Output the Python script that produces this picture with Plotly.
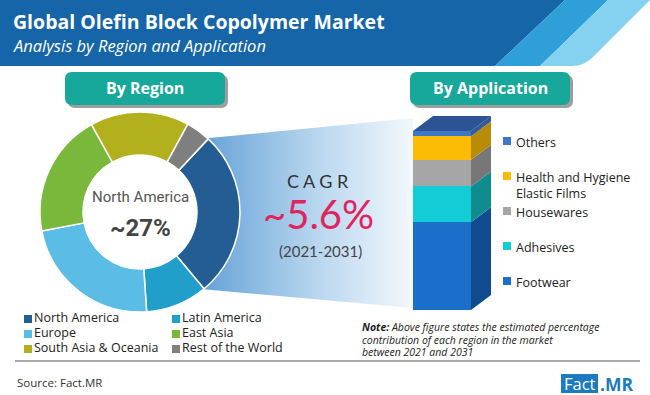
import math
import plotly.graph_objects as go

# ---------------- data ----------------
regions = ["North America", "Latin America", "Europe", "East Asia",
           "South Asia & Oceania", "Rest of the World"]
region_share = [27, 10, 23, 20, 16, 4]
region_colors = ["#245c94", "#1f9fc9", "#5bbde6", "#7ab83c", "#b2b01c", "#7f7f7f"]

applications = ["Footwear", "Adhesives", "Housewares",
                "Health and Hygiene Elastic Films", "Others"]
app_labels = ["Footwear", "Adhesives", "Housewares",
              "Health and Hygiene<br>Elastic Films", "Others"]
app_share = [49, 20, 15, 13, 3]
app_front = ["#1b6fcb", "#12cdd6", "#a6a6a6", "#fcbc05", "#3b78c9"]
app_side = ["#0f4b8e", "#0f8c90", "#777777", "#b98c07", "#2f5a9e"]
top_color = "#2e5395"

cagr = "~5.6%"
period = "(2021-2031)"
note_lines = ["<b><i>Note:</i></b><i> Above figure states the estimated percentage</i>",
              "<i>contribution of each region in the market</i>",
              "<i>between 2021 and 2031</i>"]

W, H = 650, 395
def px(x): return x / W
def py(y): return 1 - y / H

FONT = "Open Sans"
fig = go.Figure()

# ---------------- donut geometry ----------------
CX, CY, R = 140, 212, 100
ROT = 43
hole = 0.57

a0 = math.radians(ROT)
a1 = math.radians(ROT + region_share[0] / sum(region_share) * 360)
p0 = (CX + R * math.sin(a0), CY - R * math.cos(a0))
p1 = (CX + R * math.sin(a1), CY - R * math.cos(a1))

BAR_L, BAR_R, BAR_B, BAR_T = 413, 471, 310, 131
UNIT_X = BAR_R - BAR_L
UNIT_Y = (BAR_B - BAR_T) / 100.0
X2_DOM = (380, 540)
Y2_DOM = (100, 330)
BAR_CX = (BAR_L + BAR_R) / 2
DEPTH_PX, RISE_PX = 20, 15

fig.add_trace(go.Scatter(
    x=[p0[0] - 6, BAR_L, BAR_L, p1[0] - 6],
    y=[p0[1], BAR_T - 13, BAR_B - 2, p1[1]],
    fill="toself", mode="lines", line=dict(width=0),
    fillgradient=dict(type="horizontal",
                      colorscale=[[0, "#62a0d6"], [0.55, "#b8d6ef"], [1, "#f3f8fd"]]),
    hoverinfo="skip", showlegend=False, xaxis="x", yaxis="y"))

fig.add_trace(go.Pie(
    labels=regions, values=region_share, hole=hole, sort=False,
    direction="clockwise", rotation=ROT,
    marker=dict(colors=region_colors, line=dict(color="white", width=1.5)),
    textinfo="none", hoverinfo="label+percent", showlegend=False,
    domain=dict(x=[px(CX - R), px(CX + R)], y=[py(CY + R), py(CY - R)])))

# ---------------- 3D stacked bar ----------------
d = DEPTH_PX / UNIT_X
h = RISE_PX / UNIT_Y
cum = 0
for name, v, cf, cs in zip(applications, app_share, app_front, app_side):
    fig.add_trace(go.Bar(x=[0], y=[v], width=1, marker=dict(color=cf, line=dict(width=0)),
                         xaxis="x2", yaxis="y2", showlegend=False, name=name,
                         hoverinfo="name+y"))
    lo, hi = cum, cum + v
    fig.add_trace(go.Scatter(
        x=[0.5, 0.5 + d, 0.5 + d, 0.5], y=[lo, lo + h, hi + h, hi],
        fill="toself", mode="lines", line=dict(width=0), fillcolor=cs,
        xaxis="x2", yaxis="y2", hoverinfo="skip", showlegend=False))
    cum = hi
fig.add_trace(go.Scatter(
    x=[-0.5, 0.5, 0.5 + d, -0.5 + d], y=[cum, cum, cum + h, cum + h],
    fill="toself", mode="lines", line=dict(width=0), fillcolor=top_color,
    xaxis="x2", yaxis="y2", hoverinfo="skip", showlegend=False))

# ---------------- legends (manual) ----------------
LEG_X = [28, 176]
LEG_Y0, LEG_DY = 319, 15
lx = [LEG_X[i % 2] for i in range(len(regions))]
ly = [LEG_Y0 + (i // 2) * LEG_DY for i in range(len(regions))]
fig.add_trace(go.Scatter(x=lx, y=ly, mode="markers",
                         marker=dict(symbol="square", size=8, color=region_colors),
                         hoverinfo="skip", showlegend=False))
fig.add_trace(go.Scatter(x=[v + 6 for v in lx], y=ly, mode="text", text=regions,
                         textposition="middle right",
                         textfont=dict(family=FONT, size=12.5, color="#222"),
                         hoverinfo="skip", showlegend=False))

annotations = []
AX, AY0, ADY = 507, 141, 35
ax_, ay_ = [], []
for k, i in enumerate(reversed(range(len(applications)))):
    y = AY0 + k * ADY
    ax_.append(AX); ay_.append(y)
    annotations.append(dict(x=AX + 7, y=y - 9, text=app_labels[i], xanchor="left",
                            yanchor="top", align="left", showarrow=False,
                            font=dict(family=FONT, size=12.5, color="#222")))
fig.add_trace(go.Scatter(x=ax_, y=ay_, mode="markers",
                         marker=dict(symbol="square", size=8,
                                     color=list(reversed(app_front))),
                         hoverinfo="skip", showlegend=False))

fig.add_trace(go.Scatter(x=[362] * 3, y=[328, 341, 353], mode="text", text=note_lines,
                         textposition="middle right",
                         textfont=dict(family=FONT, size=10.5, color="#222"),
                         hoverinfo="skip", showlegend=False))

# ---------------- shapes ----------------
def rrect(x0, y0, x1, y1, r):
    return (f"M{x0+r},{y0} L{x1-r},{y0} Q{x1},{y0} {x1},{y0+r} L{x1},{y1-r} "
            f"Q{x1},{y1} {x1-r},{y1} L{x0+r},{y1} Q{x0},{y1} {x0},{y1-r} "
            f"L{x0},{y0+r} Q{x0},{y0} {x0+r},{y0} Z")

shapes = [
    dict(type="path", path="M0,0 L565,0 L495,66 L0,66 Z", fillcolor="#1565a8",
         line=dict(width=0), xref="x", yref="y", layer="below"),
    dict(type="path", path="M565,0 L608,0 L540,66 L495,66 Z", fillcolor="#2e9fd8",
         line=dict(width=0), xref="x", yref="y", layer="below"),
    dict(type="path", path="M608,0 L650,0 L593,57 Q584,66 572,66 L540,66 Z",
         fillcolor="#84d2f0", line=dict(width=0), xref="x", yref="y", layer="below"),
]
for (x0, x1) in [(65, 225), (410, 570)]:
    shapes.append(dict(type="path", path=rrect(x0 + 3, 75, x1 + 3, 108, 7),
                       fillcolor="rgba(40,40,40,0.45)", line=dict(width=0),
                       xref="x", yref="y", layer="below"))
    shapes.append(dict(type="path", path=rrect(x0, 72, x1, 105, 7),
                       fillcolor="#16a89b", line=dict(width=0),
                       xref="x", yref="y", layer="below"))
shapes.append(dict(type="line", x0=15, x1=640, y0=361, y1=361,
                   line=dict(color="#8c8c8c", width=1.5), xref="x", yref="y"))
shapes.append(dict(type="rect", x0=561, x1=598, y0=374, y1=393, fillcolor="#1b7bc0",
                   line=dict(width=0), xref="x", yref="y"))

# ---------------- texts ----------------
def ann(x, y, text, size, color, xanchor="center", family=FONT, **kw):
    annotations.append(dict(x=x, y=y, text=text, xanchor=xanchor, yanchor="middle",
                            showarrow=False,
                            font=dict(family=family, size=size, color=color, **kw)))

ann(11, 21, "<b>Global Olefin Block Copolymer Market</b>", 19.5, "white", "left")
ann(11, 45, "<i>Analysis by Region and Application</i>", 16.5, "white", "left")
ann(145, 88, "<b>By Region</b>", 16, "white")
ann(490, 88, "<b>By Application</b>", 16, "white")
ann(CX, 197, regions[0], 15, "#555", family="Roboto")
ann(CX, 228, f"<b>~{region_share[0]}%</b>", 24, "#444", family="Roboto")
ann(318, 181, "C A G R", 18, "#333", family="Lato")
ann(318, 214, cagr, 40, "#e0245d", family="Lato")
ann(320, 251, period, 15, "#444", family="Lato")
ann(15, 382, "Source: Fact.MR", 11.5, "#333", "left")
ann(579.5, 383.5, "Fact", 16.5, "white")
ann(598, 383.5, "<b>.MR</b>", 17.5, "#1b7bc0", "left")
for a in annotations:
    a.setdefault("xref", "x"); a.setdefault("yref", "y")

fig.update_layout(
    width=W, height=H, margin=dict(l=0, r=0, t=0, b=0),
    paper_bgcolor="white", plot_bgcolor="rgba(0,0,0,0)",
    barmode="stack", showlegend=False,
    xaxis=dict(range=[0, W], domain=[0, 1], visible=False, fixedrange=True),
    yaxis=dict(range=[H, 0], domain=[0, 1], visible=False, fixedrange=True),
    xaxis2=dict(domain=[px(X2_DOM[0]), px(X2_DOM[1])],
                range=[(X2_DOM[0] - BAR_CX) / UNIT_X, (X2_DOM[1] - BAR_CX) / UNIT_X],
                visible=False, fixedrange=True, anchor="y2"),
    yaxis2=dict(domain=[py(Y2_DOM[1]), py(Y2_DOM[0])],
                range=[(BAR_B - Y2_DOM[1]) / UNIT_Y, (BAR_B - Y2_DOM[0]) / UNIT_Y],
                visible=False, fixedrange=True, anchor="x2"),
    shapes=shapes, annotations=annotations,
)
fig.write_html("out.html", config={"displayModeBar": False},
               post_script="document.body.style.margin='0';document.body.style.overflow='hidden';")
